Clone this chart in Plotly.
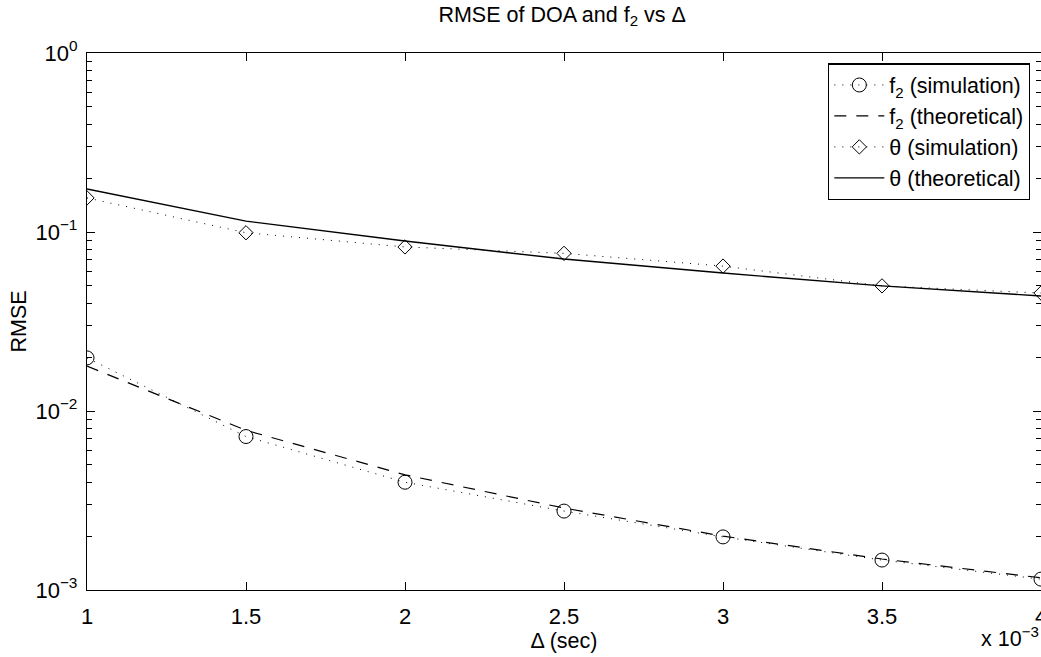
import plotly.graph_objects as go

# Time step Δ in units of 10^-3 s
delta = [1.0, 1.5, 2.0, 2.5, 3.0, 3.5, 4.0]

# RMSE of the frequency estimate f2
f2_sim = [0.0198, 0.0072, 0.0040, 0.00276, 0.00198, 0.00147, 0.00115]
f2_theory = [0.0178, 0.0078, 0.0044, 0.00287, 0.0020, 0.00149, 0.00117]

# RMSE of the DOA estimate θ
theta_sim = [0.155, 0.099, 0.0825, 0.076, 0.0645, 0.050, 0.0456]
theta_theory = [0.174, 0.115, 0.089, 0.0706, 0.059, 0.050, 0.0439]

x_ticks = [1, 1.5, 2, 2.5, 3, 3.5, 4]
x_tick_text = ["1", "1.5", "2", "2.5", "3", "3.5", "4"]
y_ticks = [1e-3, 1e-2, 1e-1, 1e0]
y_tick_text = ["10<sup>−3</sup>", "10<sup>−2</sup>", "10<sup>−1</sup>", "10<sup>0</sup>"]

FONT = "Liberation Sans, Arial, Helvetica, sans-serif"

fig = go.Figure()

fig.add_trace(go.Scatter(
    x=delta, y=f2_sim, mode="lines+markers",
    name="f<sub>2</sub> (simulation)",
    line=dict(color="black", width=1, dash="1px,7px"),
    marker=dict(symbol="circle-open", size=14, color="black", line=dict(width=1)),
))
fig.add_trace(go.Scatter(
    x=delta, y=f2_theory, mode="lines",
    name="f<sub>2</sub> (theoretical)",
    line=dict(color="black", width=1.2, dash="12px,10px"),
))
fig.add_trace(go.Scatter(
    x=delta, y=theta_sim, mode="lines+markers",
    name="θ (simulation)",
    line=dict(color="black", width=1, dash="1px,7px"),
    marker=dict(symbol="diamond-open", size=11, color="black", line=dict(width=1)),
))
fig.add_trace(go.Scatter(
    x=delta, y=theta_theory, mode="lines",
    name="θ (theoretical)",
    line=dict(color="black", width=1.4),
))

minor_y = [k * 10.0 ** e for e in (-3, -2, -1) for k in range(2, 10)]

fig.update_layout(
    width=1041, height=657,
    margin=dict(l=87, r=0, t=53, b=67, autoexpand=False),
    paper_bgcolor="white", plot_bgcolor="white",
    font=dict(family=FONT, size=21.5, color="black"),
    title=dict(text="RMSE of DOA and f<sub>2</sub> vs Δ", x=0.54, xanchor="center",
               y=0.978, yanchor="middle", font=dict(size=21.5)),
    showlegend=True,
    legend=dict(
        x=0.9885, y=0.981, xanchor="right", yanchor="top",
        bgcolor="white", bordercolor="black", borderwidth=1.3,
        font=dict(size=21.5), tracegroupgap=0, itemwidth=50,
    ),
    xaxis=dict(
        range=[1, 4], tickvals=x_ticks, ticktext=x_tick_text,
        showgrid=False, zeroline=False, automargin=False,
        showline=True, linecolor="black", linewidth=1.3, mirror="ticks",
        ticks="inside", ticklen=8, tickcolor="black", tickwidth=1,
        ticklabelstandoff=6, ticklabeloverflow="allow",
        tickfont=dict(size=22),
        title=dict(text="Δ (sec)", standoff=5, font=dict(size=21.5)),
    ),
    yaxis=dict(
        type="log", range=[-3, 0], tickvals=y_ticks, ticktext=y_tick_text,
        showgrid=False, zeroline=False, automargin=False,
        showline=True, linecolor="black", linewidth=1.3, mirror="ticks",
        ticks="inside", ticklen=8, tickcolor="black", tickwidth=1,
        ticklabelstandoff=4, tickfont=dict(size=22),
        minor=dict(tickvals=minor_y, ticks="inside", ticklen=5,
                   tickcolor="black", tickwidth=1, showgrid=False),
        title=dict(text="RMSE", standoff=2, font=dict(size=21.5)),
    ),
    annotations=[dict(
        text="x 10<sup>−3</sup>", xref="paper", yref="paper",
        x=1.0, y=-0.088, xanchor="right", yanchor="middle",
        showarrow=False, font=dict(size=21.5),
    )],
)

fig.write_html("out.html")
